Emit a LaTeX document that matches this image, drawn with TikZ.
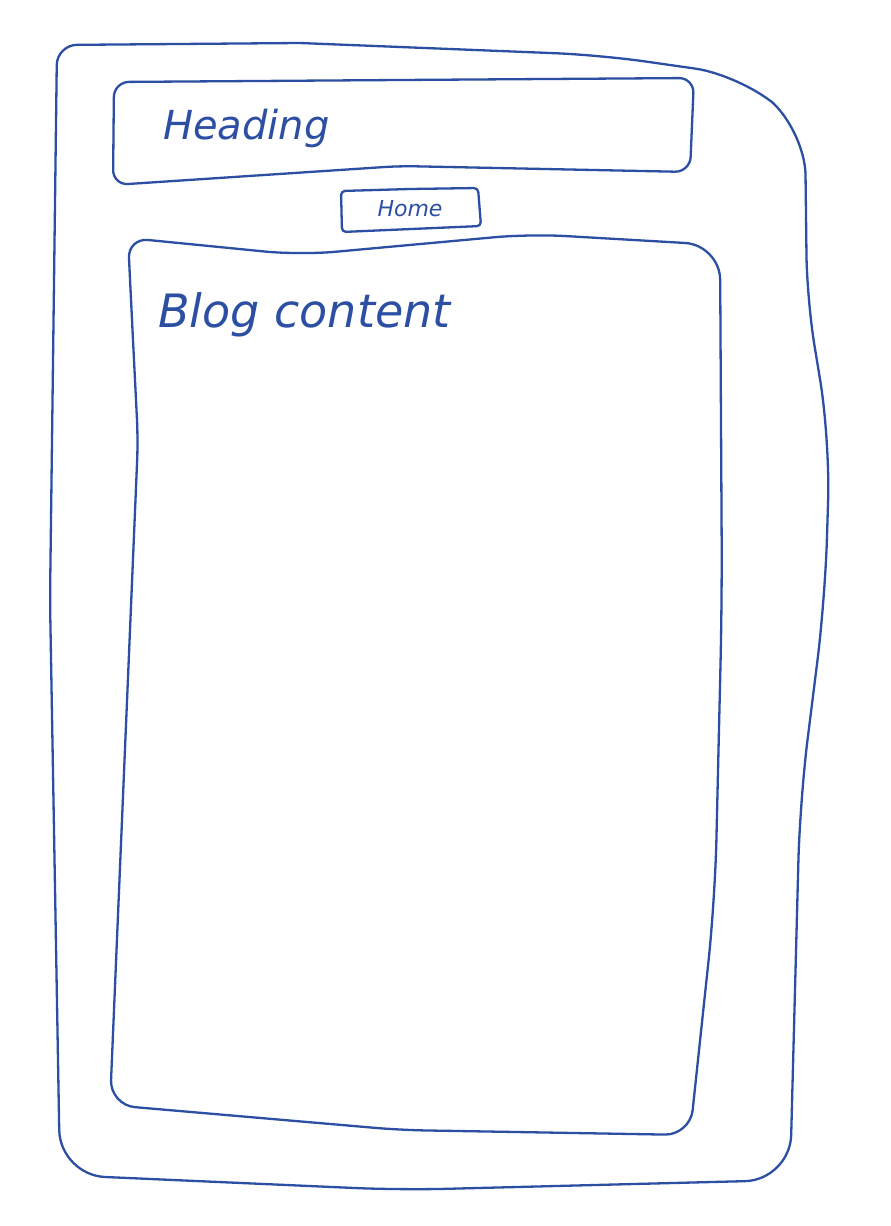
\documentclass[tikz,border=0pt]{standalone}
\usepackage{fontspec}
\setmainfont{DejaVu Sans}
\definecolor{pen}{HTML}{2C4FA3}
\begin{document}
\begin{tikzpicture}[x=1pt,y=-1pt,
  ink/.style={draw=pen,line width=2.3pt,line cap=round,line join=round},
  hand/.style={text=pen,font=\fontsize{#1}{#1}\selectfont\itshape,inner sep=0pt}]
\useasboundingbox (0,0) rectangle (891,1226);
\fill[white] (0,0) rectangle (891,1226);
% outer page frame
\draw[ink,rounded corners=45pt] (300,43) -- (600,55) -- (740,75) -- (805,130)
 -- (807,300) [rounded corners=60pt] -- (830,440) -- (825,600) -- (800,800)
 [rounded corners=45pt] -- (790,1180) -- (400,1190) -- (60,1175)
 [rounded corners=20pt] -- (50,600) -- (57,45) -- (300,43);
% heading box
\draw[ink,rounded corners=15pt] (400,80) -- (694,78) -- (690,172)
 -- (400,166) -- (113,185) -- (114,82) -- (400,80);
% home button
\draw[ink,rounded corners=4pt] (410,189) -- (478,188) -- (481,226) -- (342,232) -- (341,191) -- (410,189);
% content box
\draw[ink,rounded corners=20pt] (133,340) -- (128,238)
 [rounded corners=35pt] -- (300,255) -- (530,234) -- (720,245)
 [rounded corners=60pt] -- (722,600) -- (715,900)
 [rounded corners=25pt] -- (690,1135) -- (400,1130) -- (110,1105)
 [rounded corners=20pt] -- (138,440) -- (133,340);
% texts
\node[hand=40,anchor=west] (heading) at (163,128) {Heading};
\node[hand=22] (home) at (410,209) {Home};
\node[hand=46,anchor=west] (blog) at (158,315) {Blog content};
\end{tikzpicture}
\end{document}
